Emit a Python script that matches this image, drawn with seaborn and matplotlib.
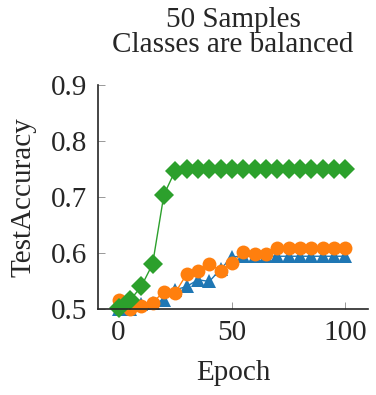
import numpy as np
import pandas as pd
import matplotlib
matplotlib.use("Agg")
import matplotlib.pyplot as plt
import seaborn as sns

# values
epochs = list(range(0, 101, 5))
acc_blue = [0.500, 0.500, 0.508, 0.510, 0.516, 0.534, 0.540, 0.552, 0.549, 0.571,
            0.593, 0.594, 0.594, 0.594, 0.594, 0.594, 0.594, 0.594, 0.594, 0.594, 0.594]
acc_orange = [0.515, 0.500, 0.505, 0.511, 0.531, 0.529, 0.562, 0.567, 0.580, 0.568,
              0.582, 0.602, 0.598, 0.598, 0.609, 0.609, 0.609, 0.609, 0.609, 0.609, 0.609]
acc_green = [0.502, 0.515, 0.540, 0.580, 0.704, 0.747, 0.750, 0.750, 0.750, 0.750,
             0.750, 0.750, 0.750, 0.750, 0.750, 0.750, 0.750, 0.750, 0.750, 0.750, 0.750]
series_names = ["blue", "orange", "green"]

df = pd.concat([
    pd.DataFrame({"Epoch": epochs, "acc": acc_blue, "series": "blue"}),
    pd.DataFrame({"Epoch": epochs, "acc": acc_orange, "series": "orange"}),
    pd.DataFrame({"Epoch": epochs, "acc": acc_green, "series": "green"}),
])

sns.set_style("ticks")
plt.rcParams["font.family"] = ["Liberation Serif", "DejaVu Serif"]

fig = plt.figure(figsize=(3.76, 3.95), dpi=100)
ax = fig.add_axes([0.261, 0.218, 0.718, 0.567])

palette = {"blue": "#1f77b4", "orange": "#ff7f0e", "green": "#2ca02c"}
markers = {"blue": "^", "orange": "o", "green": "D"}
sns.lineplot(data=df, x="Epoch", y="acc", hue="series", style="series",
             hue_order=series_names, style_order=series_names,
             palette=palette, markers=markers, dashes=False,
             markersize=10, markeredgewidth=0, linewidth=1,
             legend=False, ax=ax, clip_on=False)

ax.set_xlim(-9, 110)
ax.set_ylim(0.5, 0.9)
ax.set_xticks([0, 50, 100])
ax.set_yticks([0.5, 0.6, 0.7, 0.8, 0.9])
ax.set_yticklabels(["0.5", "0.6", "0.7", "0.8", "0.9"])
ax.tick_params(direction="in", labelsize=21, length=5, width=0.6, color="#888888")
ax.tick_params(axis="x", pad=8)
ax.tick_params(axis="y", pad=8)
ax.set_xlabel("Epoch", fontsize=21, labelpad=10)
ax.set_ylabel("TestAccuracy", fontsize=21, labelpad=10)
ax.set_title("50 Samples\nClasses are balanced", fontsize=21, linespacing=0.95, pad=24)
for s in ["left", "bottom"]:
    ax.spines[s].set_linewidth(1.2)
sns.despine(ax=ax)

fig.savefig("out.png", dpi=100)
